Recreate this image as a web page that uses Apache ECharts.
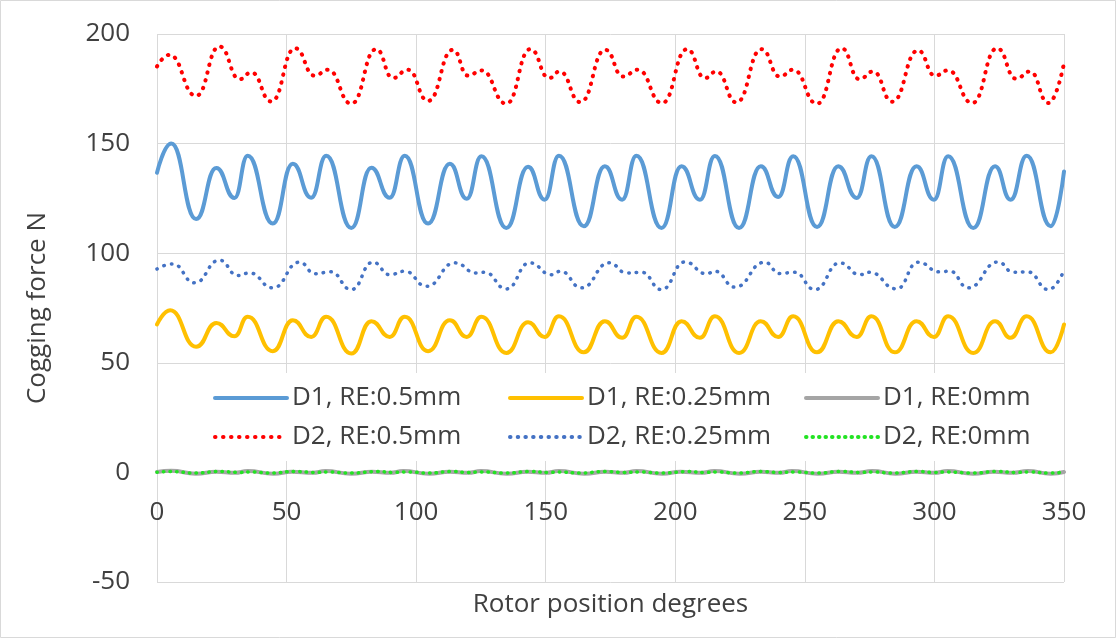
<!DOCTYPE html>
<html>
<head>
<meta charset="utf-8">
<script src="https://cdn.jsdelivr.net/npm/echarts@6/dist/echarts.min.js"></script>
<style>
html,body{margin:0;padding:0;background:#fff;}
#chart{width:1117px;height:639px;}
</style>
</head>
<body>
<div id="chart"></div>
<script>
// Series names
const seriesNames = ['D1, RE:0.5mm', 'D1, RE:0.25mm', 'D1, RE:0mm', 'D2, RE:0.5mm', 'D2, RE:0.25mm', 'D2, RE:0mm'];
const xTicks = [0, 50, 100, 150, 200, 250, 300, 350];
const yTicks = [-50, 0, 50, 100, 150, 200];

// [rotor position (deg), cogging force (N)] read at the turning points of each curve
const d1_05 = [[0,136.7],[5.5,150],[15.1,115.6],[22.9,138.9],[29.9,125.2],[35,144.5],[44.7,113.5],[52.4,140.8],[59.5,125.3],[65.3,144.5],[75,111.5],[82.7,139],[89.8,125.3],[95.6,144.5],[104.6,113.5],[113,140.8],[119.5,124.8],[125.2,144.2],[134.8,111.5],[143.2,139.4],[149.6,124.4],[155.1,144.5],[164.7,112.3],[172.8,139.7],[179.5,124.4],[185,144.5],[194.7,111.5],[202.4,139.7],[209.5,124.4],[215.3,144.4],[224.6,111.5],[233,139.7],[239.7,125.6],[245.5,144.2],[254.7,112],[262.9,139.7],[270,125.2],[275.7,144.2],[284.7,112],[293.1,139.7],[299.8,124.4],[305.3,144.2],[315,111.5],[323.4,139.7],[329.4,124.4],[335.6,144.5],[344.9,112.3],[350,137.3]];

const d1_025 = [[0,67.5],[5.1,74],[15.1,57.3],[22.9,68.2],[29.9,62.1],[35,71],[44.7,55.3],[52.4,69.4],[59.5,61.8],[65.3,71],[75,54.2],[82.7,69],[89.8,61.8],[95.6,71],[104.6,55.3],[113,69.4],[119.5,61.8],[125.2,71],[134.8,54.5],[143.2,68.5],[149.6,61.8],[155.1,71.2],[164.7,54.8],[172.8,69],[179.5,61.4],[185,71],[194.7,54.5],[202.4,69],[209.5,61.4],[215.3,71.2],[224.6,54.5],[233,69],[239.7,61.8],[245.5,71.2],[254.7,54.8],[262.9,69],[270,61.8],[275.7,71.2],[284.7,54.8],[293.1,69],[299.8,61.8],[305.3,71.2],[315,54.5],[323.4,69],[329.4,61.4],[335.6,71.2],[344.9,54.8],[350,67.5]];

const d1_0 = [[0,0.2],[5.5,0.7],[15,-0.6],[23,0.3],[30,-0.2],[35,0.6],[45,-0.6],[52,0.3],[60,-0.2],[65,0.6],[75,-0.6],[83,0.3],[90,-0.2],[95,0.6],[105,-0.6],[113,0.3],[120,-0.2],[125,0.6],[135,-0.6],[143,0.3],[150,-0.2],[155,0.6],[165,-0.6],[173,0.3],[180,-0.2],[185,0.6],[195,-0.6],[202,0.3],[210,-0.2],[215,0.6],[225,-0.6],[233,0.3],[240,-0.2],[245,0.6],[255,-0.6],[263,0.3],[270,-0.2],[276,0.6],[285,-0.6],[293,0.3],[300,-0.2],[305,0.6],[315,-0.6],[323,0.3],[330,-0.2],[336,0.6],[345,-0.6],[350,0.2]];

const d2_05 = [[0,185.2],[4.8,190.5],[15.1,171.8],[24.1,194.3],[31.9,179.4],[36.4,182.5],[44.1,169.2],[53.3,193.5],[60.8,181],[66,183.7],[75,168.2],[84.6,193.1],[91,179.9],[96.8,183.7],[104.6,169.5],[114.2,192.8],[120,181],[125.2,183.4],[134.8,168.2],[144.1,193.1],[151.3,179.9],[155.4,182.9],[163.4,168.9],[173,192.8],[179.8,180.6],[185.6,183.7],[194.9,168.5],[204.6,193.1],[211.4,179.9],[215.9,182.9],[223.6,168.8],[233.3,193.1],[240.3,180.6],[245.5,183.7],[254.7,168.2],[264.2,193.5],[271,179.4],[276.4,182.9],[283.7,169.1],[293.7,192.5],[300.2,181],[305.3,183.4],[314.6,168.5],[324.2,193.5],[331.5,179.6],[336.9,182.9],[344,168.5],[350,186.7]];

const d2_025 = [[0,92.8],[6.1,95.1],[14.5,86.5],[24.1,96.8],[31.2,89.8],[35.7,91],[44.7,84.2],[55,95.9],[61,90.6],[67,91.5],[75,83.4],[83.3,95.9],[89.8,90.2],[95.6,91.8],[104,84.9],[114.9,95.6],[123.2,91],[126.5,91.3],[134.8,83.7],[143.8,95.6],[152.2,90.2],[155.7,91.8],[163.8,84.2],[174.5,95.6],[181.2,91],[187,91.3],[194.7,83.4],[203.7,96],[212,90.6],[215.3,91.8],[223,84.5],[234.5,95.9],[240.3,90.7],[246,91.3],[253.9,83.4],[263.5,95.6],[271.2,90.2],[275,91.3],[285.4,83.7],[293.7,95.9],[302,91.5],[306,91.8],[313,84.2],[324.6,96],[330.4,91.3],[336,91.5],[344,83.4],[350,92.2]];

const d2_0 = [[0,0.1],[5,0.4],[15,-0.3],[24,0.4],[32,0],[36,0.2],[44,-0.3],[53,0.4],[61,0],[66,0.2],[75,-0.3],[85,0.4],[91,0],[97,0.2],[105,-0.3],[114,0.4],[120,0],[125,0.2],[135,-0.3],[144,0.4],[151,0],[155,0.2],[163,-0.3],[173,0.4],[180,0],[186,0.2],[195,-0.3],[205,0.4],[211,0],[216,0.2],[224,-0.3],[233,0.4],[240,0],[246,0.2],[255,-0.3],[264,0.4],[271,0],[276,0.2],[284,-0.3],[294,0.4],[300,0],[305,0.2],[315,-0.3],[324,0.4],[331,0],[337,0.2],[344,-0.3],[350,0.1]];

const FONT = '"Open Sans", "Noto Sans", sans-serif';
const TXT = '#404040';
const GRIDC = '#d9d9d9';

function lineSeries(name, data, color, width, type, z) {
  return {
    name: name, type: 'line', data: data,
    showSymbol: false, symbol: 'none',
    smooth: 0.5, smoothMonotone: 'x',
    z: z,
    lineStyle: { color: color, width: width, type: type, cap: 'round', join: 'round' },
    itemStyle: { color: color },
    emphasis: { disabled: true },
    animation: false
  };
}

const legendBase = {
  orient: 'vertical',
  itemWidth: 72, itemHeight: 14, itemGap: 13,
  top: 385,
  padding: 0,
  selectedMode: false,
  itemStyle: { opacity: 0, borderWidth: 0 },
  lineStyle: { width: 4, cap: 'round' },
  textStyle: { fontFamily: FONT, fontSize: 26, color: TXT, lineHeight: 26, padding: [0,0,0,0] }
};

const option = {
  backgroundColor: '#fff',
  animation: false,
  textStyle: { fontFamily: FONT },
  grid: { left: 157, right: 53, top: 34, bottom: 57, containLabel: false, outerBoundsMode: 'none' },
  graphic: [
    { type: 'rect', z: 100, silent: true, shape: { x: 0.5, y: 0.5, width: 1115, height: 637 }, style: { fill: 'none', stroke: GRIDC, lineWidth: 1 } },
    { type: 'rect', z: 1, silent: true, shape: { x: 166, y: 373, width: 888, height: 88 }, style: { fill: '#fff', stroke: 'none' } }
  ],
  legend: [
    Object.assign({}, legendBase, { left: 213, data: [seriesNames[0], seriesNames[3]] }),
    Object.assign({}, legendBase, { left: 508, data: [seriesNames[1], seriesNames[4]] }),
    Object.assign({}, legendBase, { left: 804, data: [seriesNames[2], seriesNames[5]] })
  ],
  xAxis: {
    type: 'value', min: xTicks[0], max: xTicks[xTicks.length - 1], interval: 50,
    position: 'bottom',
    name: 'Rotor position degrees', nameLocation: 'middle', nameGap: 10, nameMoveOverlap: false,
    nameTextStyle: { fontFamily: FONT, fontSize: 26, color: TXT, lineHeight: 26 },
    axisLine: { show: false, onZero: false },
    axisTick: { show: false },
    axisLabel: { fontFamily: FONT, fontSize: 26, color: TXT, margin: -82, lineHeight: 26 },
    splitLine: { show: true, lineStyle: { color: GRIDC, width: 1 } }
  },
  yAxis: {
    type: 'value', min: yTicks[0], max: yTicks[yTicks.length - 1], interval: 50,
    name: 'Cogging force N', nameLocation: 'middle', nameGap: 106, nameMoveOverlap: false,
    nameTextStyle: { fontFamily: FONT, fontSize: 26, color: TXT },
    axisLine: { show: false, onZero: false },
    axisTick: { show: false },
    axisLabel: { fontFamily: FONT, fontSize: 26, color: TXT, margin: 27 },
    splitLine: { show: true, lineStyle: { color: GRIDC, width: 1 } }
  },
  series: [
    lineSeries(seriesNames[0], d1_05, '#5b9bd5', 4, 'solid', 2),
    lineSeries(seriesNames[1], d1_025, '#ffc000', 4, 'solid', 2),
    lineSeries(seriesNames[2], d1_0, '#a5a5a5', 4, 'solid', 2),
    lineSeries(seriesNames[3], d2_05, '#ff0000', 4, [0.5, 7.5], 3),
    lineSeries(seriesNames[4], d2_025, '#4472c4', 3.5, [0.5, 7.2], 3),
    lineSeries(seriesNames[5], d2_0, '#22e322', 3.5, [0.5, 6], 3)
  ]
};

const chart = echarts.init(document.getElementById('chart'), null, { renderer: 'canvas', width: 1117, height: 639 });
chart.setOption(option);
</script>
</body>
</html>
